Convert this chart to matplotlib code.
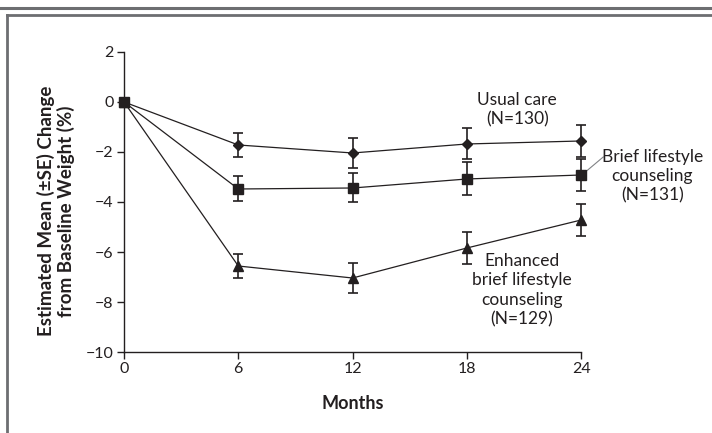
import matplotlib
matplotlib.use('Agg')
import matplotlib.pyplot as plt
from matplotlib.lines import Line2D

plt.rcParams['font.family'] = ['Lato', 'DejaVu Sans']
plt.rcParams['axes.unicode_minus'] = True

# data
months = [0, 6, 12, 18, 24]
usual = [0, -1.72, -2.04, -1.68, -1.56]
usual_se = [0, 0.48, 0.60, 0.62, 0.64]
brief = [0, -3.48, -3.44, -3.08, -2.92]
brief_se = [0, 0.50, 0.58, 0.66, 0.64]
enhanced = [0, -6.56, -7.04, -5.84, -4.72]
enhanced_se = [0, 0.48, 0.60, 0.64, 0.64]

ink = '#231f20'
frame = '#6d6e71'

fig = plt.figure(figsize=(7.12, 4.33), dpi=100)
ax = fig.add_axes([0.1742, 0.187, 0.642, 0.693])

series = [
    (usual, usual_se, 'D', 5.5),
    (enhanced, enhanced_se, '^', 7),
    (brief, brief_se, 's', 7),
]
for vals, se, mk, ms in series:
    ax.errorbar(months[1:], vals[1:], yerr=se[1:], fmt='none', ecolor=ink,
                elinewidth=1.2, capsize=3.5, capthick=1.2, clip_on=False, zorder=2)
    ax.plot(months, vals, color=ink, lw=0.9, marker=mk, ms=ms, mfc=ink, mec=ink,
            clip_on=False, zorder=3)

ax.set_xlim(0, 24)
ax.set_ylim(-10, 2)
ax.set_xticks(months)
ax.set_yticks(range(-10, 3, 2))
ax.spines['top'].set_visible(False)
ax.spines['right'].set_visible(False)
for s in ('left', 'bottom'):
    ax.spines[s].set_color(ink)
    ax.spines[s].set_linewidth(1.0)
ax.tick_params(colors=ink, labelsize=11.5, length=5, width=1.0, direction='out', pad=2.5)

ax.set_xlabel('Months', fontsize=13, fontweight='bold', color=ink, labelpad=13)
ax.set_ylabel('Estimated Mean (±SE) Change\nfrom Baseline Weight (%)', fontsize=13.5,
              fontweight='bold', color=ink, linespacing=1.1)
ax.yaxis.label.set_va('center')
ax.yaxis.set_label_coords(-0.149, 0.47)

# group labels
txt = dict(fontsize=12.5, color=ink, ha='center', va='center', linespacing=1.25, clip_on=False)
ax.text(20.64, -0.32, 'Usual care\n(N=130)', **txt)
ax.text(20.9, -7.52, 'Enhanced\nbrief lifestyle\ncounseling\n(N=129)', **txt)
ax.text(27.73, -2.96, 'Brief lifestyle\ncounseling\n(N=131)', **txt)
ax.plot([24.16, 25.16], [-2.84, -2.2], color='#808285', lw=0.8, clip_on=False)

# outer frame lines
fig.add_artist(Line2D([0, 1], [1 - 7.5 / 433, 1 - 7.5 / 433], color=frame, lw=2.2))
fig.add_artist(Line2D([6.5 / 712, 1], [1 - 14.5 / 433, 1 - 14.5 / 433], color=frame, lw=2.0))
fig.add_artist(Line2D([6.5 / 712, 6.5 / 712], [0, 1 - 14.5 / 433], color=frame, lw=2.0))

fig.savefig('out.png', dpi=100)
